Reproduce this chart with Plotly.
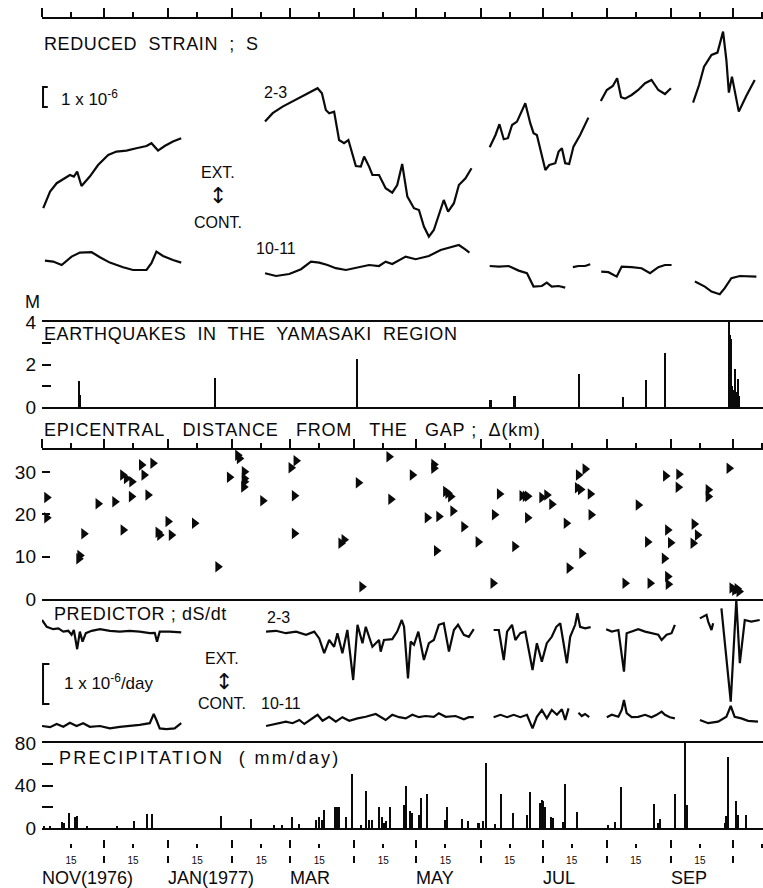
import plotly.graph_objects as go

# ---------------------------------------------------------------------------
# Time axis: days counted from 1 Nov 1976
# ---------------------------------------------------------------------------
MONTH_STARTS = [0, 30, 61, 92, 120, 151, 181, 212, 242, 273, 304, 334]
MID_MONTHS = [14, 44, 75, 106, 134, 165, 195, 226, 256, 287, 318, 348]
MONTH_LABELS = ["NOV(1976)", "JAN(1977)", "MAR", "MAY", "JUL", "SEP"]
MONTH_LABEL_DAYS = [0, 61, 120, 181, 242, 304]
X_RANGE = [0, 348.5]

# ---------------------------------------------------------------------------
# Reduced strain S (units of 1e-6, arbitrary offsets), one list per segment
# ---------------------------------------------------------------------------
S23_DAYS = [
    [0.6, 3.9, 7.1, 11.1, 13.5, 15.4, 17.0, 19.1, 23.1, 27.1, 32.0, 36.0, 40.8, 45.6, 50.5, 52.9, 54.5,
     56.1, 59.3, 63.3, 67.3],
    [107.8, 111.5, 116.3, 121.1, 125.9, 130.0, 133.2, 135.3, 137.2, 138.8, 141.2, 143.6, 146.0, 148.1,
     150.0, 151.7, 154.1, 155.7, 158.1, 159.7, 162.9, 166.1, 169.3, 171.7, 174.1, 176.6, 179.8, 182.2,
     184.6, 187.0, 189.4, 194.2, 196.3, 199.1, 201.5, 204.7, 207.6],
    [216.4, 219.2, 221.1, 223.2, 225.2, 227.2, 229.6, 233.6, 236.0, 237.6, 239.2, 241.6, 243.3, 245.2,
     248.1, 249.7, 251.3, 252.9, 254.8, 256.9, 260.1, 264.1],
    [270.1, 273.0, 275.9, 278.0, 279.9, 281.8, 285.0, 288.2, 291.5, 294.6, 297.9, 301.1, 304.0],
    [314.7, 317.6, 320.0, 323.6, 326.5, 329.2, 330.8, 332.0, 333.5, 334.8, 336.8, 340.4, 344.5],
]
S23_VALS = [
    [4.59, 5.42, 5.84, 6.09, 6.25, 6.17, 6.42, 5.70, 6.17, 6.75, 7.25, 7.42, 7.47, 7.59, 7.70, 7.84, 7.67,
     7.47, 7.70, 7.92, 8.09],
    [8.92, 9.34, 9.67, 9.92, 10.17, 10.42, 10.59, 10.34, 9.50, 9.34, 9.42, 8.00, 7.84, 8.00, 7.34, 6.70,
     6.67, 7.17, 6.67, 6.25, 6.25, 5.59, 5.37, 5.75, 6.80, 5.17, 4.59, 4.50, 3.67, 3.17, 3.50, 5.00, 4.42,
     4.84, 5.75, 6.09, 6.59],
    [7.64, 8.25, 8.79, 8.04, 8.09, 8.75, 8.92, 9.84, 8.84, 8.34, 8.25, 7.17, 6.50, 6.75, 6.84, 7.42, 7.59,
     6.84, 6.80, 7.67, 8.25, 9.12],
    [9.95, 10.50, 10.70, 11.09, 10.14, 10.07, 10.25, 10.50, 10.84, 11.00, 10.50, 10.30, 10.59],
    [9.87, 10.75, 11.67, 12.25, 12.37, 13.42, 12.00, 10.37, 11.17, 10.42, 9.42, 10.20, 11.00],
]
S1011_DAYS = [
    [1.4, 5.4, 9.5, 14.3, 18.3, 24.0, 28.0, 32.8, 39.2, 44.0, 50.5, 52.9, 55.3, 58.5, 63.3, 67.3],
    [107.8, 113.1, 119.5, 125.2, 130.0, 134.0, 138.0, 142.0, 146.9, 153.3, 158.1, 162.9, 166.1, 169.3,
     175.8, 180.6, 187.0, 192.7, 197.5, 201.5, 204.4, 206.6],
    [216.4, 220.8, 225.6, 230.4, 234.4, 237.6, 241.6, 244.0, 246.4, 249.7, 252.9],
    [256.6, 259.3, 262.5, 265.0],
    [270.3, 273.8, 277.8, 280.2, 285.0, 289.8, 293.9, 297.9, 301.1, 304.3],
    [315.6, 320.4, 323.6, 327.6, 330.0, 333.2, 337.3, 341.3, 345.3],
]
S1011_VALS = [
    [1.97, 1.92, 1.75, 2.17, 2.37, 2.39, 2.14, 1.87, 1.64, 1.50, 1.50, 1.84, 2.42, 2.20, 2.00, 1.87],
    [1.34, 1.20, 1.30, 1.54, 1.92, 1.87, 1.75, 1.59, 1.50, 1.64, 1.75, 1.70, 1.92, 1.80, 2.17, 2.04,
     2.20, 2.50, 2.62, 2.75, 2.54, 2.37],
    [1.70, 1.67, 1.70, 1.47, 1.34, 0.67, 0.70, 0.87, 0.67, 0.70, 0.62],
    [1.64, 1.70, 1.70, 1.79],
    [1.42, 1.39, 1.17, 1.67, 1.64, 1.59, 1.34, 1.64, 1.75, 1.75],
    [0.92, 0.67, 0.42, 0.29, 0.59, 1.09, 1.20, 1.20, 1.17],
]

# ---------------------------------------------------------------------------
# Earthquakes in the Yamasaki region: magnitude M
# ---------------------------------------------------------------------------
QUAKE_DAYS = [17.8, 18.3, 18.6, 83.9, 152.3, 216.9, 228.5, 259.8, 281.0, 292.1, 301.3, 332.1, 332.8,
              333.3, 333.7, 334.0, 334.5, 335.0, 335.5, 336.4, 336.9]
QUAKE_MAG = [1.22, 0.55, 0.35, 1.36, 2.26, 0.33, 0.52, 1.55, 0.47, 1.27, 2.54, 4.0, 3.4, 3.2, 1.0, 0.8,
             0.6, 1.8, 0.7, 1.3, 0.5]

# ---------------------------------------------------------------------------
# Epicentral distance from the gap (km)
# ---------------------------------------------------------------------------
EPI_DAYS = [2.3, 2.3, 20.2, 18.3, 17.8, 27.1, 35.2, 39.0, 40.8, 43.4,
            43.2, 39.2, 48.1, 53.6, 49.3, 51.2, 56.9, 56.1, 60.9, 62.5,
            73.7, 85.0, 94.6, 95.4, 90.6, 97.8, 97.8, 97.8, 97.5, 106.7,
            122.8, 120.4, 122.0, 122.0, 146.0, 144.5, 152.9, 154.6, 167.7, 168.6,
            179.0, 189.4, 189.4, 195.1, 197.5, 196.2, 186.2, 191.8, 198.6, 203.9,
            190.7, 210.8, 221.1, 218.7, 218.0, 228.5, 233.6, 232.0, 234.7, 234.7,
            241.6, 244.0, 246.4, 253.4, 254.8, 262.5, 259.3, 258.8, 260.3, 265.0,
            265.4, 260.9, 288.2, 281.8, 293.9, 292.7, 301.4, 307.8, 307.5, 302.4,
            303.8, 300.8, 302.4, 302.7, 322.0, 322.0, 315.2, 316.8, 314.7, 332.1,
            334.8, 336.0, 333.5, 336.9]
EPI_KM = [24.0, 19.2, 15.4, 10.3, 9.5, 22.5, 23.0, 29.3, 28.5, 27.7,
          24.2, 16.3, 31.7, 32.1, 29.3, 24.6, 15.1, 15.8, 18.3, 15.1,
          17.9, 7.6, 34.0, 33.2, 28.8, 30.1, 28.5, 27.7, 26.5, 23.2,
          32.7, 31.0, 24.4, 15.5, 14.0, 13.2, 27.5, 2.9, 33.6, 23.6,
          29.3, 30.9, 31.8, 25.4, 24.2, 25.0, 19.2, 19.5, 20.8, 17.1,
          11.4, 13.5, 24.8, 19.9, 3.7, 12.4, 24.3, 24.4, 24.3, 19.2,
          24.0, 24.6, 22.4, 17.9, 7.3, 30.7, 29.3, 26.3, 25.9, 24.8,
          19.9, 10.8, 22.2, 3.7, 3.7, 13.5, 29.1, 29.5, 26.4, 16.3,
          13.3, 9.6, 5.3, 3.5, 25.8, 24.2, 17.7, 15.1, 13.2, 30.9,
          2.1, 2.4, 2.6, 1.8]

# ---------------------------------------------------------------------------
# Predictor dS/dt (units of 1e-6/day, arbitrary offsets)
# ---------------------------------------------------------------------------
P23_DAYS = [
    [0.0, 2.3, 5.4, 7.9, 10.3, 12.7, 14.3, 15.4, 17.0, 18.3, 19.6, 21.2, 24.0, 28.0, 32.8, 37.6, 42.4,
     47.2, 52.1, 54.5, 55.6, 56.9, 61.7, 67.3],
    [108.3, 113.1, 117.9, 122.8, 127.6, 131.6, 134.0, 136.4, 138.8, 141.2, 142.8, 145.2, 147.6, 150.4,
     152.5, 154.9, 156.5, 159.7, 162.9, 163.7, 165.3, 169.3, 171.7, 173.9, 175.0, 176.9, 178.2, 179.8,
     181.9, 184.6, 187.0, 189.4, 191.8, 194.2, 196.7, 199.1, 201.1, 203.9, 206.3, 208.7],
    [218.3, 220.8, 223.2, 224.8, 227.2, 228.8, 231.2, 233.6, 237.1, 239.2, 241.6, 244.0, 246.4, 248.6,
     250.5, 252.1, 253.7, 255.3, 257.7, 258.8, 260.1, 262.5, 265.2],
    [272.7, 275.4, 278.6, 281.3, 282.6, 285.0, 288.2, 291.5, 294.6, 297.9, 299.5, 301.9, 304.3, 305.9],
    [318.0, 321.2, 322.0, 323.6, 324.4],
    [328.4, 332.9, 335.6, 337.3, 339.7, 342.8, 346.9],
]
P23_VALS = [
    [3.05, 2.88, 2.82, 2.84, 2.76, 2.78, 2.68, 2.80, 2.32, 2.76, 2.51, 2.72, 2.78, 2.82, 2.78, 2.76, 2.78,
     2.76, 2.72, 2.73, 2.51, 2.76, 2.76, 2.74],
    [2.76, 2.78, 2.72, 2.76, 2.68, 2.76, 2.59, 2.22, 2.55, 2.38, 2.72, 2.22, 2.80, 1.55, 2.93, 2.47, 2.88,
     2.38, 2.55, 2.26, 2.55, 2.57, 2.76, 3.05, 2.88, 1.59, 2.51, 2.43, 2.76, 2.05, 2.47, 2.55, 2.93, 2.97,
     2.26, 2.80, 2.93, 2.68, 2.63, 2.82],
    [2.80, 2.80, 2.05, 2.76, 2.93, 2.55, 2.72, 2.76, 1.80, 2.47, 2.01, 2.47, 2.63, 2.88, 2.97, 2.47, 1.97,
     2.63, 2.93, 3.22, 2.88, 2.84, 2.87],
    [2.82, 2.76, 2.80, 1.76, 2.72, 2.76, 2.82, 2.76, 2.72, 2.68, 2.55, 2.68, 2.72, 2.93],
    [3.09, 3.18, 3.01, 2.80, 2.97],
    [3.34, 1.01, 3.55, 1.97, 3.05, 3.01, 3.05],
]
P1011_DAYS = [
    [0.0, 3.9, 7.1, 10.3, 13.5, 16.7, 19.9, 23.1, 28.0, 32.8, 37.6, 42.4, 47.2, 52.1, 54.0, 55.3, 56.9,
     60.1, 64.1, 67.3],
    [108.3, 113.1, 117.9, 121.1, 124.4, 126.8, 130.0, 133.2, 135.6, 138.8, 142.0, 145.2, 148.5, 152.5,
     156.5, 161.3, 166.1, 169.3, 172.6, 175.8, 179.0, 182.2, 185.4, 189.4, 191.8, 195.1, 199.9, 203.9,
     206.3, 208.7],
    [218.3, 221.6, 224.8, 228.0, 231.2, 234.4, 237.1, 239.2, 241.6, 244.0, 246.4, 248.9, 251.3, 252.9, 254.5],
    [259.3, 260.9, 262.5, 264.5],
    [273.0, 275.4, 278.6, 280.2, 281.3, 282.6, 285.0, 288.2, 291.5, 294.6, 297.1, 299.5, 301.1, 303.5, 305.9],
    [318.0, 322.0, 326.8, 330.8, 332.9, 334.8, 338.0, 341.3, 346.1],
]
P1011_VALS = [
    [0.40, 0.37, 0.45, 0.38, 0.48, 0.40, 0.47, 0.38, 0.40, 0.34, 0.38, 0.40, 0.43, 0.47, 0.70, 0.55, 0.34,
     0.32, 0.34, 0.47],
    [0.40, 0.45, 0.51, 0.47, 0.55, 0.45, 0.57, 0.68, 0.53, 0.63, 0.51, 0.62, 0.53, 0.59, 0.63, 0.70, 0.55,
     0.68, 0.62, 0.59, 0.68, 0.62, 0.65, 0.63, 0.72, 0.63, 0.65, 0.57, 0.62, 0.62],
    [0.62, 0.68, 0.62, 0.68, 0.62, 0.68, 0.34, 0.63, 0.80, 0.59, 0.80, 0.68, 0.82, 0.55, 0.84],
    [0.73, 0.65, 0.70, 0.62],
    [0.62, 0.68, 0.63, 0.80, 1.05, 0.72, 0.62, 0.63, 0.68, 0.62, 0.68, 0.76, 0.68, 0.62, 0.59],
    [0.55, 0.47, 0.51, 0.63, 0.90, 0.63, 0.59, 0.53, 0.51],
]

# ---------------------------------------------------------------------------
# Precipitation (mm/day)
# ---------------------------------------------------------------------------
RAIN_DAYS = [1.0, 3.9, 9.6, 10.6, 13.0, 15.9, 16.9, 21.7, 36.2, 44.8,
             51.1, 53.5, 86.8, 101.2, 112.3, 116.2, 121.0, 124.4, 132.6, 134.0,
             135.4, 136.4, 141.7, 142.7, 143.6, 147.0, 149.9, 154.2, 156.7, 158.1,
             159.5, 162.9, 164.4, 165.3, 166.3, 168.2, 175.0, 175.9, 177.9, 178.8,
             182.2, 183.2, 186.1, 194.7, 195.7, 202.9, 205.8, 211.1, 213.5, 214.5,
             219.3, 222.2, 228.0, 234.7, 236.2, 241.0, 241.7, 242.4, 243.4, 246.3,
             247.3, 252.1, 253.1, 258.8, 273.8, 277.2, 280.0, 295.9, 297.9, 298.8,
             306.1, 311.0, 312.0, 330.4, 330.9, 331.9, 335.7, 336.7, 340.5]
RAIN_MM = [1.5, 2, 6, 5, 14.4, 10, 11, 2, 2, 6.6,
           13, 13, 11, 8.5, 2.5, 3, 10.6, 4, 8, 10,
           8, 17, 19.5, 19.5, 19.5, 10, 50.5, 2.5, 35, 7.5,
           7.5, 20, 10, 4.7, 7, 20, 22, 40, 15.7, 14,
           12.6, 28.6, 31.8, 8, 20, 8.8, 6.9, 4.7, 6.9, 61.6,
           3.8, 32.4, 14, 12.6, 34, 24, 26, 25, 20, 10,
           9, 6, 41, 15, 2.5, 6, 38.7, 23, 5, 8.8,
           32.4, 80, 22, 5, 11, 67, 25, 12, 12]

# ---------------------------------------------------------------------------
# Page geometry (pixels) and styling
# ---------------------------------------------------------------------------
W, H = 763, 888
LEFT = 42
INK = "#0a0a0a"
FONT = "Liberation Sans"


def px(x):
    """page x pixel -> paper coordinate"""
    return (x - LEFT) / (W - LEFT)


def py(y):
    """page y pixel -> paper coordinate"""
    return 1 - y / H


def band(top, bottom):
    return [py(bottom), py(top)]


fig = go.Figure()


def add_segments(days, vals, xa, ya):
    for d, v in zip(days, vals):
        fig.add_trace(go.Scatter(x=d, y=v, mode="lines", xaxis=xa, yaxis=ya,
                                 line=dict(color=INK, width=2.2, shape="linear"),
                                 hoverinfo="skip", showlegend=False))


add_segments(S23_DAYS, S23_VALS, "x", "y")
add_segments(S1011_DAYS, S1011_VALS, "x", "y")

fig.add_trace(go.Bar(x=QUAKE_DAYS, y=QUAKE_MAG, width=0.8, xaxis="x2", yaxis="y2",
                     marker=dict(color=INK, line=dict(width=0)), showlegend=False, hoverinfo="skip"))

fig.add_trace(go.Scatter(x=EPI_DAYS, y=EPI_KM, mode="markers", xaxis="x3", yaxis="y3",
                         marker=dict(symbol="triangle-right", size=10, color=INK, line=dict(width=0)),
                         showlegend=False, hoverinfo="skip", cliponaxis=False))

add_segments(P23_DAYS, P23_VALS, "x4", "y4")
add_segments(P1011_DAYS, P1011_VALS, "x4", "y4")

fig.add_trace(go.Bar(x=RAIN_DAYS, y=RAIN_MM, width=0.75, xaxis="x5", yaxis="y5",
                     marker=dict(color=INK, line=dict(width=0)), showlegend=False, hoverinfo="skip"))

# empty traces so the free tick-row axes get drawn
for xa in ["x6", "x7", "x8"]:
    fig.add_trace(go.Scatter(x=[None], y=[None], xaxis=xa, yaxis="y5", showlegend=False))

base_x = dict(range=X_RANGE, showgrid=False, zeroline=False, showticklabels=False, fixedrange=True,
              linecolor=INK, tickcolor=INK)
ruler = dict(ticks="outside", tickvals=MONTH_STARTS, ticklen=9, tickwidth=1.6,
             minor=dict(tickvals=MID_MONTHS, ticks="outside", ticklen=5, tickwidth=1.6, tickcolor=INK))

tick_font = dict(family=FONT, size=19, color=INK)
base_y = dict(showgrid=False, zeroline=False, fixedrange=True, showline=False, ticks="inside",
              tickcolor=INK, tickwidth=2, tickfont=tick_font, ticklabelstandoff=5)

fig.update_layout(
    width=W, height=H,
    margin=dict(l=LEFT, r=0, t=0, b=0, autoexpand=False),
    paper_bgcolor="white", plot_bgcolor="rgba(0,0,0,0)",
    font=dict(family=FONT, color=INK),
    bargap=0,
    xaxis=dict(**base_x, **ruler, side="top", showline=True, linewidth=2, anchor="y"),
    yaxis=dict(domain=band(19, 300), range=[0, 14.05], visible=False, fixedrange=True),
    xaxis2=dict(**base_x, showline=True, mirror=True, linewidth=2, anchor="y2"),
    yaxis2=dict(**base_y, domain=band(322, 407), range=[0, 4], tickvals=[0, 1, 2, 3, 4],
                ticktext=["0", "", "2", "", "4"], ticklen=9),
    xaxis3=dict(**base_x, **ruler, side="top", showline=True, mirror=True, linewidth=2, anchor="y3"),
    yaxis3=dict(**base_y, domain=band(450, 599), range=[0, 35.22], tickvals=[0, 10, 20, 30],
                ticklen=8),
    xaxis4=dict(**base_x, visible=False, anchor="y4"),
    yaxis4=dict(domain=band(598, 742), range=[0, 3.6], visible=False, fixedrange=True),
    xaxis5=dict(**base_x, showline=True, mirror=True, linewidth=2, anchor="y5"),
    yaxis5=dict(**base_y, domain=band(743, 828), range=[0, 80], tickvals=[0, 20, 40, 60, 80],
                ticktext=["0", "", "40", "", "80"], ticklen=11),
    xaxis6=dict(**base_x, anchor="free", overlaying="x5", position=py(848), showline=False,
                ticks="inside", tickvals=MONTH_STARTS, ticklen=8, tickwidth=1.6,
                minor=dict(tickvals=MID_MONTHS, ticks="inside", ticklen=4, tickwidth=1.6, tickcolor=INK)),
    xaxis7=dict(**base_x, anchor="free", overlaying="x5", position=py(863), showline=False,
                ticks="inside", tickvals=MONTH_STARTS, ticklen=7, tickwidth=1.6),
)
fig.update_layout(
    xaxis8=dict(range=X_RANGE, showgrid=False, zeroline=False, fixedrange=True, anchor="free",
                overlaying="x5", position=py(853), showline=False, ticks="", tickvals=MID_MONTHS,
                ticktext=["15"] * len(MID_MONTHS), tickangle=0,
                tickfont=dict(family=FONT, size=10, color=INK)),
)

# scale brackets: one unit tall on their own axes
fig.add_shape(type="path", xref="x", yref="y", line=dict(color=INK, width=2),
              path="M 2.8 9.65 L 0.5 9.65 L 0.5 10.65 L 2.8 10.65")
fig.add_shape(type="path", xref="x4", yref="y4", line=dict(color=INK, width=2),
              path="M 3.6 0.95 L 0.5 0.95 L 0.5 1.95 L 3.6 1.95")


def spaced(t, ls=0.6):
    return '<span style="letter-spacing:%spx">%s</span>' % (ls, t)


NB = "\u00a0"
G2 = NB + " "          # two-space word gap
G3 = NB + NB + " "     # three-space word gap
labels = [
    (spaced("REDUCED" + G2 + "STRAIN" + G2 + ";" + G2 + "S"), 42, 44, "left", 18),
    ("1" + NB + "x" + NB + "10<sup>-6</sup>", 59, 98, "left", 17),
    ("2-3", 262, 93, "left", 16),
    ("EXT.", 218, 172, "center", 16),
    ("CONT.", 218, 222, "center", 16),
    ("10-11", 254, 248, "left", 16),
    ("M", 32, 302, "center", 18),
    (spaced("EARTHQUAKES" + G2 + "IN" + G2 + "THE" + G2 + "YAMASAKI" + G2 + "REGION"), 42, 334, "left", 18),
    (spaced("EPICENTRAL" + G3 + "DISTANCE" + G3 + "FROM" + G3 + "THE" + G3 + "GAP" + NB + ";" + G2 +
            "\u0394(km)", 0.8), 42, 430, "left", 18),
    (spaced("PREDICTOR" + NB + ";" + " dS/dt"), 52, 614, "left", 18),
    ("2-3", 265, 617, "left", 16),
    ("EXT.", 222, 658, "center", 16),
    ("CONT.", 222, 703, "center", 16),
    ("10-11", 259, 703, "left", 16),
    ("1" + NB + "x" + NB + "10<sup>-6</sup>/day", 62, 682, "left", 17),
    (spaced("PRECIPITATION" + G2 + "(" + NB + "mm/day)", 2.3), 57, 758, "left", 18),
]
for text, x, y, anchor, size in labels:
    fig.add_annotation(text=text, x=px(x), y=py(y), xref="paper", yref="paper", xanchor=anchor,
                       yanchor="middle", showarrow=False, font=dict(family=FONT, size=size, color=INK))

# extension / contraction arrows
for x, y in [(218, 196), (224, 681)]:
    fig.add_annotation(text="\u2195", x=px(x), y=py(y), xref="paper", yref="paper", xanchor="center",
                       yanchor="middle", showarrow=False,
                       font=dict(family="DejaVu Sans", size=22, color=INK))

# month names under the time axis
for name, d in zip(MONTH_LABELS, MONTH_LABEL_DAYS):
    fig.add_annotation(text=name, x=d, xref="x5", y=py(878), yref="paper", xanchor="left",
                       xshift=-2, yanchor="middle", showarrow=False,
                       font=dict(family=FONT, size=18, color=INK))

fig.write_html("out.html")
